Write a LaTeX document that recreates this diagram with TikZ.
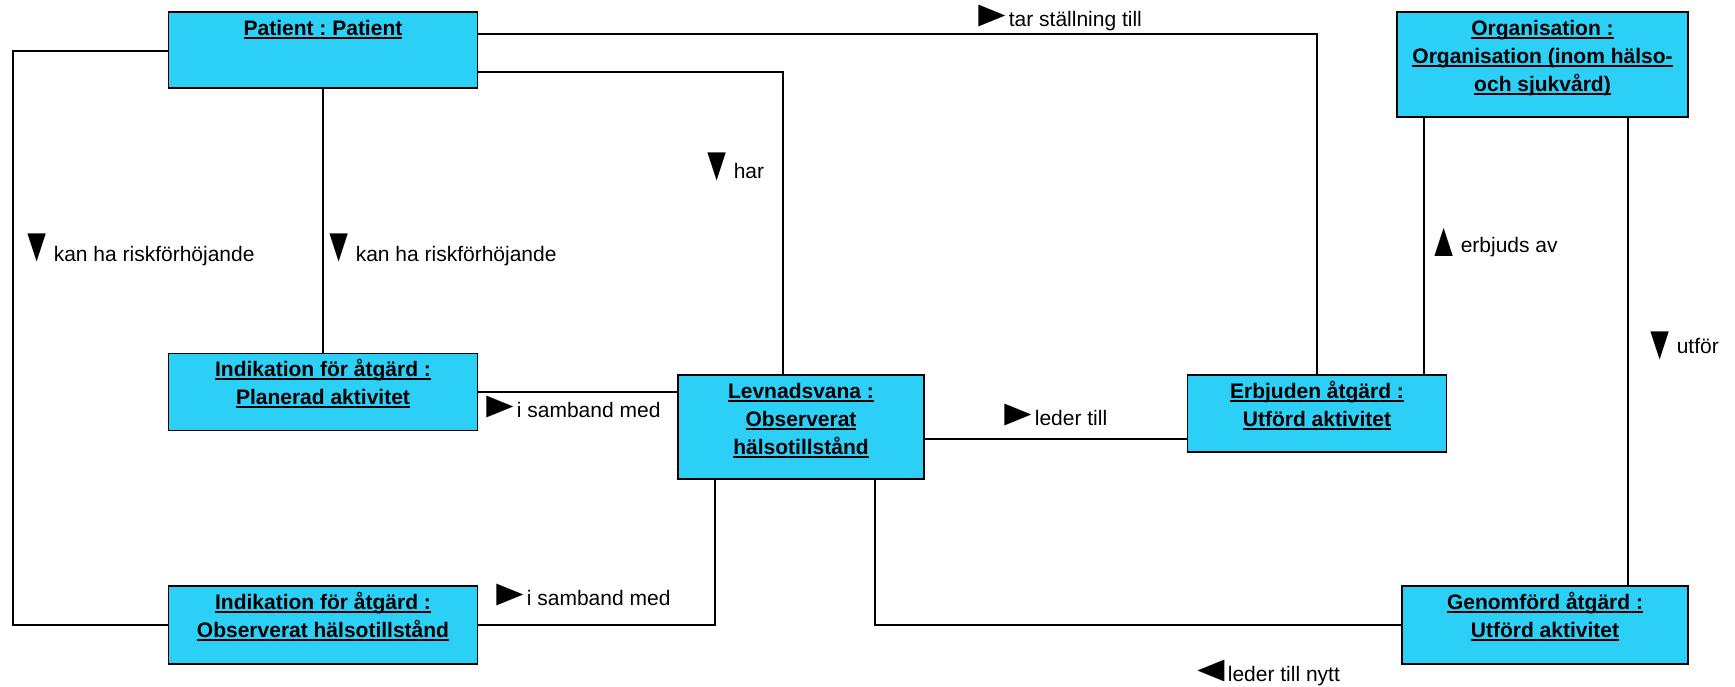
\documentclass[tikz,border=0pt]{standalone}
\usepackage{fontspec}
\setmainfont{Liberation Sans}
\definecolor{boxcyan}{RGB}{44,207,246}
\newcommand\ulline[1]{\setbox0\hbox{\rule{0pt}{19pt}#1}\rlap{\rule[-3.2pt]{\wd0}{1.6pt}}\box0}
\newcommand\trh[1]{\hspace{-9.5pt}\scalebox{2.15}[1.75]{#1}\hspace{-5.5pt}}
\newcommand\trv[2][0pt]{\hspace{-6.6pt}\raisebox{#1}{\scalebox{1.5}[2.3]{#2}}\hspace{1pt}}
\begin{document}
\frenchspacing
\begin{tikzpicture}[x=1pt,y=-1pt,
  umlbox/.style={draw=black, fill=boxcyan, line width=1.8pt, inner sep=0pt},
  boxtext/.style={anchor=north, inner sep=0pt, align=center, font=\fontsize{21}{28}\selectfont\bfseries},
  conn/.style={line width=1.7pt},
  lbl/.style={anchor=base west, inner sep=0pt, font=\fontsize{21}{25}\selectfont}]
\useasboundingbox (0,0) rectangle (1735,686);

% boxes
\node[umlbox, minimum width=309pt, minimum height=76pt] (Pat) at (323,50) {};
\node[umlbox, minimum width=291pt, minimum height=105pt] (Org) at (1542.5,64.5) {};
\node[umlbox, minimum width=309pt, minimum height=77pt] (Plan) at (323,392) {};
\node[umlbox, minimum width=246pt, minimum height=104pt] (Lev) at (801,427) {};
\node[umlbox, minimum width=259pt, minimum height=77pt] (Erb) at (1317,413.5) {};
\node[umlbox, minimum width=309pt, minimum height=78pt] (Obs) at (323,625) {};
\node[umlbox, minimum width=286pt, minimum height=78pt] (Gen) at (1545,625) {};

% box texts
\node[boxtext] (PatT) at ([yshift=-5pt]Pat.north) {\ulline{Patient : Patient}};
\node[boxtext] (OrgT) at ([yshift=-5pt]Org.north) {\ulline{Organisation :}\\\ulline{Organisation (inom hälso-}\\\ulline{och sjukvård)}};
\node[boxtext] (PlanT) at ([yshift=-5pt]Plan.north) {\ulline{Indikation för åtgärd :}\\\ulline{Planerad aktivitet}};
\node[boxtext] (LevT) at ([yshift=-5pt]Lev.north) {\ulline{Levnadsvana :}\\\ulline{Observerat}\\\ulline{hälsotillstånd}};
\node[boxtext] (ErbT) at ([yshift=-5pt]Erb.north) {\ulline{Erbjuden åtgärd :}\\\ulline{Utförd aktivitet}};
\node[boxtext] (ObsT) at ([yshift=-5pt]Obs.north) {\ulline{Indikation för åtgärd :}\\\ulline{Observerat hälsotillstånd}};
\node[boxtext] (GenT) at ([yshift=-5pt]Gen.north) {\ulline{Genomförd åtgärd :}\\\ulline{Utförd aktivitet}};

% connectors
\coordinate (leftx) at (13,51);
\draw[conn] ([yshift=-1pt]Pat.west) -- (leftx) |- (Obs.west);
\draw[conn] (Pat.south) -- (Plan.north);
\draw[conn] ([yshift=16pt]Pat.east) -| (Erb.north);
\draw[conn] ([yshift=-22pt]Pat.east) -| ([xshift=-18pt]Lev.north);
\draw[conn] (Plan.east) -- (Plan.east -| Lev.west);
\draw[conn] ([yshift=-12pt]Lev.east) -- ([yshift=-12pt]Lev.east -| Erb.west);
\draw[conn] ([xshift=-118.5pt]Org.south) -- ([xshift=-118.5pt]Org.south |- Erb.north);
\draw[conn] ([xshift=85.5pt]Org.south) -- ([xshift=85.5pt]Org.south |- Gen.north);
\draw[conn] ([xshift=-86pt]Lev.south) |- (Obs.east);
\draw[conn] ([xshift=74pt]Lev.south) |- (Gen.west);

% labels
\node[lbl] (L1) at (28,261) {\trv{▼}kan ha riskförhöjande};
\node[lbl] (L2) at (330,261) {\trv{▼}kan ha riskförhöjande};
\node[lbl] (L3) at (979,26) {\trh{►}tar ställning till};
\node[lbl] (L4) at (708,178) {\trv[-2pt]{▼}har};
\node[lbl] (L5) at (487,417) {\trh{►}i samband med};
\node[lbl] (L6) at (1005,425) {\trh{►}leder till};
\node[lbl] (L7) at (1435,252) {\trv[-4pt]{▲}erbjuds av};
\node[lbl] (L8) at (1651,353) {\trv[-6pt]{▼}utför};
\node[lbl] (L9) at (497,605) {\trh{►}i samband med};
\node[lbl] (L10) at (1198,681) {\trh{◄}leder till nytt};
\end{tikzpicture}
\end{document}
